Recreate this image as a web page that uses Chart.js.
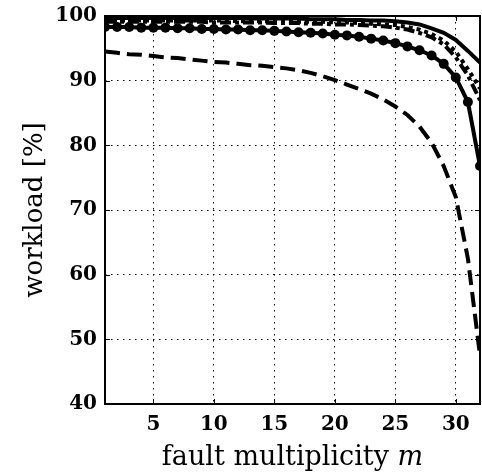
<!DOCTYPE html>
<html>
<head>
<meta charset="utf-8">
<script src="https://cdn.jsdelivr.net/npm/chart.js@4/dist/chart.umd.min.js"></script>
<style>
    html, body { margin: 0; padding: 0; background: #fff; }
    #wrap { width: 482px; height: 475px; }
</style>
</head>
<body>
<div id="wrap"><canvas id="workloadChart"></canvas></div>
<script>
// fault multiplicity m
const multiplicity = [1, 2, 3, 4, 5, 6, 7, 8, 9, 10, 11, 12, 13, 14, 15, 16,
    17, 18, 19, 20, 21, 22, 23, 24, 25, 26, 27, 28, 29, 30, 31, 32]

// workload [%] for each curve
const solidTop = [99.7, 99.7, 99.7, 99.7, 99.7, 99.7, 99.7, 99.7, 99.7, 99.7, 99.7, 99.7, 99.6, 99.6, 99.6, 99.6,
    99.6, 99.5, 99.5, 99.5, 99.4, 99.4, 99.3, 99.3, 99.2, 99.0, 98.7, 98.1, 97.4, 96.3, 94.6, 92.8]
const dotted = [99.3, 99.3, 99.3, 99.3, 99.3, 99.3, 99.3, 99.3, 99.3, 99.3, 99.3, 99.2, 99.2, 99.2, 99.2, 99.2,
    99.1, 99.1, 99.1, 99.0, 99.0, 98.9, 98.8, 98.7, 98.6, 98.3, 97.9, 97.2, 96.2, 94.5, 91.8, 88.8]
const dashDot = [99.1, 99.1, 99.1, 99.1, 99.1, 99.1, 99.1, 99.1, 99.1, 99.0, 99.0, 99.0, 99.0, 99.0, 98.9, 98.9,
    98.9, 98.8, 98.8, 98.7, 98.7, 98.6, 98.5, 98.4, 98.2, 97.9, 97.4, 96.7, 95.6, 93.6, 90.8, 87.0]
const circles = [98.3, 98.3, 98.3, 98.2, 98.2, 98.2, 98.1, 98.1, 98.0, 98.0, 97.9, 97.9, 97.8, 97.8, 97.7, 97.6,
    97.5, 97.4, 97.3, 97.1, 97.0, 96.8, 96.5, 96.2, 95.8, 95.3, 94.7, 93.9, 92.6, 90.5, 86.7, 76.8]
const dashed = [94.5, 94.3, 94.1, 94.0, 93.8, 93.6, 93.5, 93.3, 93.1, 92.9, 92.8, 92.6, 92.4, 92.3, 92.1, 91.9,
    91.6, 91.2, 90.7, 90.1, 89.4, 88.7, 88.0, 87.1, 86.0, 84.7, 82.9, 80.4, 76.8, 72.0, 62.5, 47.5]

const xTickValues = [5, 10, 15, 20, 25, 30]
const yTickValues = [40, 50, 60, 70, 80, 90, 100]

const xTitle = 'fault multiplicity '
const xTitleVar = 'm'
const yTitle = 'workload [%]'

function toPoints(values) {
    return values.map((v, i) => ({ x: multiplicity[i], y: v }))
}

function makeLine(values, dash, radius) {
    return {
        data: toPoints(values),
        borderColor: '#000',
        backgroundColor: '#000',
        borderWidth: 4,
        borderDash: dash,
        pointRadius: radius,
        pointHoverRadius: radius,
        pointBackgroundColor: '#000',
        pointBorderWidth: 0,
        tension: 0,
        fill: false,
    }
}

// box around the plot, inward tick marks and the x title with italic m
const framePlugin = {
    id: 'frame',
    afterDatasetsDraw: function(chart) {
        const ctx = chart.ctx
        const area = chart.chartArea
        const xs = chart.scales.x
        const ys = chart.scales.y
        ctx.save()
        ctx.strokeStyle = '#000'
        ctx.lineWidth = 1
        xTickValues.forEach(v => {
            const px = Math.round(xs.getPixelForValue(v)) + 0.5
            ctx.beginPath()
            ctx.moveTo(px, area.bottom); ctx.lineTo(px, area.bottom - 5)
            ctx.moveTo(px, area.top); ctx.lineTo(px, area.top + 5)
            ctx.stroke()
        })
        yTickValues.forEach(v => {
            const py = Math.round(ys.getPixelForValue(v)) + 0.5
            ctx.beginPath()
            ctx.moveTo(area.left, py); ctx.lineTo(area.left + 5, py)
            ctx.moveTo(area.right, py); ctx.lineTo(area.right - 5, py)
            ctx.stroke()
        })
        ctx.lineWidth = 2
        ctx.strokeRect(area.left, area.top, area.right - area.left, area.bottom - area.top)
        ctx.restore()
    },
    afterDraw: function(chart) {
        const ctx = chart.ctx
        const area = chart.chartArea
        ctx.save()
        ctx.fillStyle = '#000'
        ctx.textBaseline = 'alphabetic'
        ctx.font = '27px "DejaVu Serif"'
        const w1 = ctx.measureText(xTitle).width
        ctx.font = 'italic 27px "DejaVu Serif"'
        const w2 = ctx.measureText(xTitleVar).width
        const start = (area.left + area.right) / 2 - (w1 + w2) / 2
        const baseY = 465
        ctx.font = '27px "DejaVu Serif"'
        ctx.textAlign = 'left'
        ctx.fillText(xTitle, start, baseY)
        ctx.font = 'italic 27px "DejaVu Serif"'
        ctx.fillText(xTitleVar, start + w1, baseY)
        ctx.restore()
    }
}

const tickFont = { family: '"DejaVu Serif"', size: 20, weight: 'bold' }

const chartConfig = {
    type: 'line',
    data: {
        datasets: [
            makeLine(solidTop, [], 0),
            makeLine(dotted, [4, 4], 0),
            makeLine(dashDot, [11, 4, 4, 4], 0),
            makeLine(dashed, [15, 7], 0),
            makeLine(circles, [], 5),
        ],
    },
    options: {
        responsive: true,
        maintainAspectRatio: false,
        animation: false,
        events: [],
        layout: { autoPadding: false, padding: { left: 0, right: 2, top: 16, bottom: 0 } },
        plugins: {
            legend: { display: false },
            tooltip: { enabled: false },
        },
        scales: {
            x: {
                type: 'linear',
                min: 1,
                max: 32,
                afterBuildTicks: function(scale) {
                    scale.ticks = xTickValues.map(v => ({ value: v }))
                },
                afterFit: function(scale) {
                    scale.height = 71
                    // labels stay well inside, drop the extra room chart.js keeps for them
                    scale.paddingLeft = 0
                    scale.paddingRight = 0
                },
                grid: { color: '#000', lineWidth: 1, drawTicks: false },
                border: { display: false, dash: [1.5, 4.5] },
                ticks: { font: tickFont, color: '#000', padding: 9, maxRotation: 0 },
            },
            y: {
                type: 'linear',
                min: 40,
                max: 100,
                afterBuildTicks: function(scale) {
                    scale.ticks = yTickValues.map(v => ({ value: v }))
                },
                afterFit: function(scale) {
                    scale.width = 105
                    scale.paddingTop = 0
                    scale.paddingBottom = 0
                },
                grid: { color: '#000', lineWidth: 1, drawTicks: false },
                border: { display: false, dash: [1.5, 4.5] },
                ticks: { font: tickFont, color: '#000', padding: 8 },
                title: {
                    display: true,
                    text: yTitle,
                    color: '#000',
                    font: { family: '"DejaVu Serif"', size: 26 },
                    padding: { top: 20, bottom: 0 },
                },
            },
        },
    },
    plugins: [framePlugin],
}

const workloadChart = new Chart(
    document.getElementById('workloadChart'),
    chartConfig
)
</script>
</body>
</html>
